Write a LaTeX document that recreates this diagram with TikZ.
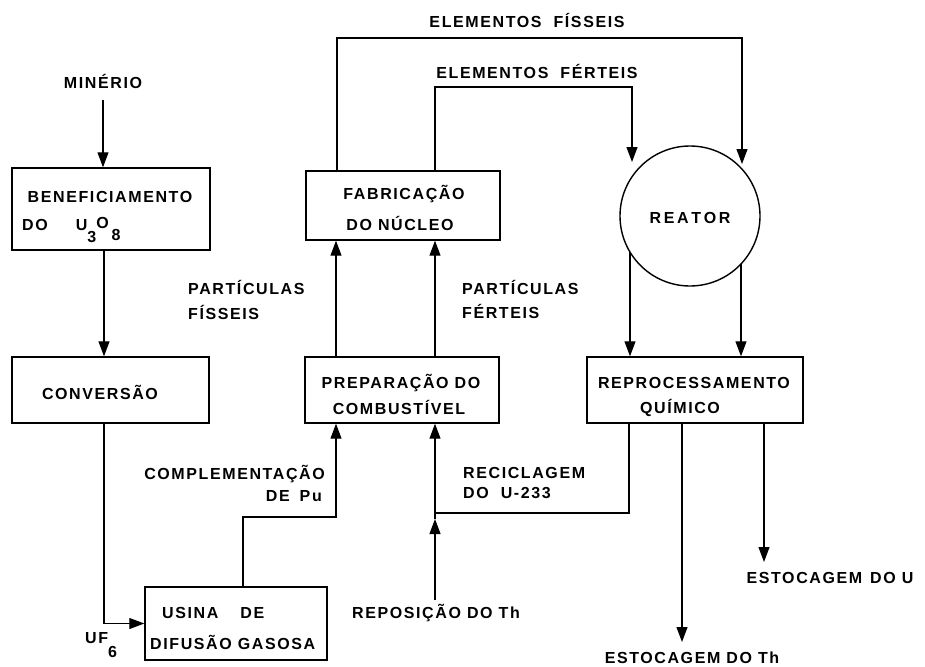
\documentclass[tikz,border=0pt]{standalone}
\usepackage{fontspec}
\setmainfont{Liberation Sans}[LetterSpace=10]
\usetikzlibrary{arrows.meta,calc}
\newcommand\lblfont{\fontsize{16}{19}\selectfont\bfseries}
\tikzset{
  box/.style={draw, line width=1.4pt, inner sep=0pt},
  lbl/.style={inner sep=0pt, font=\lblfont},
  ln/.style={line width=1.1pt},
  arr/.style={line width=1.1pt, -{Triangle[length=15pt,width=11pt]}},
}
\begin{document}
\begin{tikzpicture}[x=1pt,y=-1pt]
\useasboundingbox (0,0) rectangle (925,666);
% boxes
\node[box, minimum width=198pt, minimum height=82pt] (benef) at (111,209) {};
\node[box, minimum width=197pt, minimum height=66pt] (conv) at (110.5,390) {};
\node[box, minimum width=182pt, minimum height=73pt] (usina) at (236,623.5) {};
\node[box, minimum width=194pt, minimum height=66pt] (prep) at (402,390) {};
\node[box, minimum width=194pt, minimum height=69pt] (fab) at (403,205.5) {};
\node[box, minimum width=216pt, minimum height=66pt] (repro) at (695,390) {};
\node[box, circle, minimum size=140pt] (reactor) at (690,216) {};
% texts
\node[lbl, anchor=base] (min) at (103,89) {MINÉRIO};
\node[lbl, anchor=base] (tbenef1) at (110,202) {BENEFICIAMENTO};
\node[lbl, anchor=base west] (tbenef2) at (22,230) {DO\hspace{28pt}U\raisebox{-12pt}{3}\raisebox{2pt}{O}\hspace{3pt}\raisebox{-10pt}{8}};
\node[lbl, anchor=base] (tconv) at (100,399) {CONVERSÃO};
\node[lbl, anchor=base west] (uf) at (85,643) {UF\raisebox{-14pt}{6}};
\node[lbl, anchor=base west] (tusina1) at (162,618) {USINA\hspace{22pt}DE};
\node[lbl, anchor=base west] (tusina2) at (150,649) {DIFUSÃO GASOSA};
\node[lbl, anchor=base east] (compl1) at (325,479) {COMPLEMENTAÇÃO};
\node[lbl, anchor=base east] (compl2) at (322,501) {DE\hspace{10pt}Pu};
\node[lbl, anchor=base] (tprep1) at (401,388) {PREPARAÇÃO DO};
\node[lbl, anchor=base] (tprep2) at (399,414) {COMBUSTÍVEL};
\node[lbl, anchor=base west] (pfis1) at (188,294) {PARTÍCULAS};
\node[lbl, anchor=base west] (pfis2) at (188,319) {FÍSSEIS};
\node[lbl, anchor=base west] (pfer1) at (462,294) {PARTÍCULAS};
\node[lbl, anchor=base west] (pfer2) at (462,318) {FÉRTEIS};
\node[lbl, anchor=base] (tfab1) at (404,199) {FABRICAÇÃO};
\node[lbl, anchor=base] (tfab2) at (400,230) {DO NÚCLEO};
\node[lbl, anchor=base] (efis) at (527,28) {ELEMENTOS\hspace{12pt}FÍSSEIS};
\node[lbl, anchor=base] (efer) at (537,79) {ELEMENTOS\hspace{12pt}FÉRTEIS};
\node[lbl, anchor=base] (treact) at (690,223) {R\,E\,A\,T\,O\,R};
\node[lbl, anchor=base] (trepro1) at (694,388) {REPROCESSAMENTO};
\node[lbl, anchor=base] (trepro2) at (680,413) {QUÍMICO};
\node[lbl, anchor=base west] (recic1) at (463,478) {RECICLAGEM};
\node[lbl, anchor=base west] (recic2) at (463,498) {DO\hspace{12pt}U-233};
\node[lbl, anchor=base] (repos) at (436,618) {REPOSIÇÃO DO Th};
\node[lbl, anchor=base] (estth) at (692,663) {ESTOCAGEM DO Th};
\node[lbl, anchor=base] (estu) at (830,583) {ESTOCAGEM\hspace{8pt}DO U};
% coordinates
\coordinate (cx) at (104,0);
\coordinate (pu1) at (243,517);
\coordinate (pu2) at (336,517);
\coordinate (xr) at (435,0);
\coordinate (fis1) at (337,38);
\coordinate (fis2) at (742,38);
\coordinate (fisT) at (742,164);
\coordinate (fer1) at (435,87);
\coordinate (fer2) at (632,87);
\coordinate (ferT) at (632,162);
\coordinate (ra) at (630,252);
\coordinate (rb) at (741,264);
\coordinate (rc) at (629,513);
\coordinate (jn) at (435,513);
\coordinate (jt) at (435,519);
\coordinate (rs) at (435,600);
\coordinate (tTh) at (682,642);
\coordinate (tU) at (764,562);
% connectors
\draw[arr] ([yshift=-11pt]min.south) -- (min.south |- benef.north);
\draw[arr] (benef.south -| cx) -- (conv.north -| cx);
\draw[arr] (conv.south -| cx) |- (usina.west);
\draw[arr] (usina.north -| pu1) -- (pu1) -- (pu2) -- (prep.south -| pu2);
\draw[arr] (prep.north -| pu2) -- (fab.south -| pu2);
\draw[arr] (prep.north -| xr) -- (fab.south -| xr);
\draw[arr] (fab.north -| fis1) -- (fis1) -- (fis2) -- (fisT);
\draw[arr] (fab.north -| fer1) -- (fer1) -- (fer2) -- (ferT);
\draw[arr] (ra) -- (repro.north -| ra);
\draw[arr] (rb) -- (repro.north -| rb);
\draw[ln] (repro.south -| rc) -- (rc) -- (jn);
\draw[arr] (rs) -- (jt);
\draw[arr] (jt) -- (prep.south -| jt);
\draw[arr] (repro.south -| tTh) -- (tTh);
\draw[arr] (repro.south -| tU) -- (tU);
\end{tikzpicture}
\end{document}
